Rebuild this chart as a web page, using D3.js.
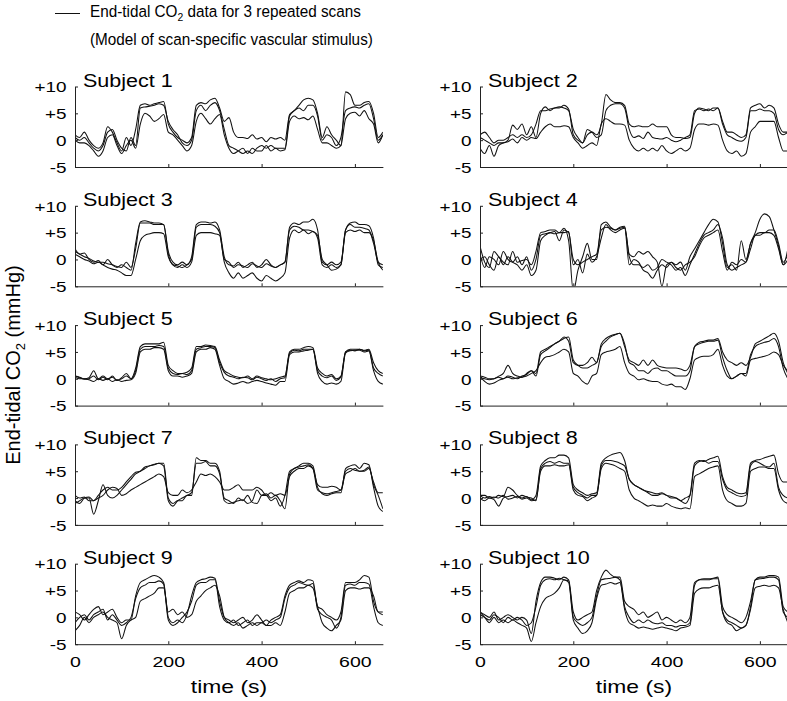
<!DOCTYPE html>
<html><head><meta charset="utf-8">
<script src="https://cdn.jsdelivr.net/npm/d3@7"></script>
<style>
body{margin:0;background:#fff}
svg{display:block}
text{font-family:"Liberation Sans",Arial,Helvetica,sans-serif;fill:#000}
</style>
</head><body>
<svg id="chart" width="787" height="701"></svg>
<script>
// ---------- data ----------
const times = [0,10,20,30,40,50,60,70,80,90,100,110,120,130,140,150,160,170,180,190,200,210,220,230,240,250,260,270,280,290,300,310,320,330,340,350,360,370,380,390,400,410,420,430,440,450,460,470,480,490,500,510,520,530,540,550,560,570,580,590,600,610,620,630,640,650,660];
const xTickValues = [0,200,400,600];
const xTickLabels = ["0","200","400","600"];
const yTickValues = [-5,0,5,10];
const yTickLabels = ["-5","0","+5","+10"];
const subjectNames = ["Subject 1","Subject 2","Subject 3","Subject 4","Subject 5","Subject 6","Subject 7","Subject 8","Subject 9","Subject 10"];

const s1a = [1,0.5,1.5,0,-1,-1.5,-0.5,2.5,1.5,-0.5, -2,0.5,-1,2,6.5,6.8,6.5,6.8,7,7.2, 3,1.5,0.5,0,-0.5,0.5,6.5,7,6.8,7.5, 7.8,6,3.5,4.2,1.5,0.5,0.5,0.3,1,0.2, 0.5,-0.3,0.5,0.2,0.5,0,4.8,5.5,6.5,7.5, 7.8,7.5,5,0.5,2.5,1,0,-1,9,8.5, 6.5,6.5,7,7.2,5,0.5,1.5];
const s1b = [0.5,0,0.5,-0.5,-1.5,-2,-1,1.5,2,0, -1.5,-2,0.5,-1,6,6.2,6.3,6.5,6.8,6.5, 3.5,2,1,-0.5,-1,0,5.5,6.5,5.5,6.5, 7,5.5,2,-1,-1.5,-2,-2.5,-2,-2.5,-1.5, -1,-1.5,-1,-1.5,-1.5,-1.5,4.5,5.5,6,5.5, 6.5,6.5,4.5,0,1,0.5,-1,0.5,5.5,6, 6.2,6,6.5,6.8,4,0,1];
const s1c = [0,-0.5,-0.5,-1,-2,-3,-2,0.5,1,-1, -2.5,-1,0,-1.5,3,5,4.5,3.5,4,4.8, 1.5,1,0,-1,-2,-1,3.5,5,4,3, 4,4.8,1,-1.5,-2.5,-2,-1.5,-2.5,-1.5,-2, -2,-1,-2,-1.5,-2,-1.8,3.5,4.5,4,4.2, 3.8,4.5,2,-0.5,-0.5,-1,-1.5,-1,4,5, 5.2,4.5,5.5,4,3,-0.5,1];

const s2a = [1,1.5,0.5,-0.5,0,0,0.5,1,0.5,1, 0.5,1,3,5.5,5.5,5.8,6,6.2,6,5.5, 2,0.5,-0.5,1,1.5,1,3,8.5,7.5,7, 7,6.5,3,2.5,2.7,2.5,2.5,3,2.5,2.5, 2.5,1,0.5,0.5,0.3,0.5,5,6,5.8,5.5, 6,6,3.5,1.5,1.5,1,0.5,1,6,6.5, 6.8,6,6.5,6,3,1.5,1.5];
const s2b = [0.5,0,-0.5,-1,-0.5,-0.5,0,2.8,2,3, 1,2.5,0.5,5,6.2,5.5,6,6,6.5,5.8, 1,0,-0.5,2,1.5,0.5,1,5.5,6.5,6.8, 6.8,6,2,0.5,0.8,0.3,1.5,0.5,0.3,0.2, 0.5,0,-0.3,0,0.5,1,5.5,5.8,5.5,5.8, 5.5,6,3,1,0.5,0,-0.2,0.5,5.5,5.5, 5.8,5.5,5.5,5,2,1,1.5];
const s2c = [-1.5,-2.5,-1,-3,-1,-0.5,-0.3,0.2,-0.5,0.5, 0,0.5,0.3,1.5,2.5,3,2.5,2.5,2.7,2.5, 0.5,-0.5,-1.5,-1,-0.5,-1,3,4,3.5,3, 3,2.8,0,-1.5,-2,-1.5,-2,-1.5,-2,-1, -2,-2.5,-2,-1.5,-2,-1.5,2,3,3,2.8, 3,2.8,0,-2,-2.5,-2,-3,-2.5,1.5,2.5, 3.5,3.5,3.5,3.5,0.5,-2,-2];

const s3a = [2,1,1.2,0,-0.5,-0.2,-1,0,-1,-1.5, -1,-1.5,-2,3,7,7.2,7,6.8,6.8,6.5, 1.5,-0.5,-1,-0.5,-1,0.5,6.5,7,7,6.8, 7,5.5,0.5,-1,-1.2,-0.5,-1.5,-1,-0.5,-1.5, -1,0,-1,-1.5,-1,-0.5,6,6.8,6.5,7, 7,7.5,5.5,-0.5,-1,-0.5,-1,-0.5,5.5,6.8, 7,6.5,6.5,6.3,4,-1,-1.5];
const s3b = [1.5,1,0.5,0.2,-0.3,-0.5,-0.5,-0.8,-1,-1.3, -1.5,-0.5,-1.5,2,6.8,6.8,6.8,6.5,6.5,6.5, 1,-1,-1.2,-1.5,-1,0,6,6.5,6.5,6.5, 6.2,5,0,-0.5,-1.5,-1,-1.2,-1.5,-0.8,-1.2, -1.5,-0.8,-1.2,-1.5,-1,-0.5,5.5,6.2,6,5.5, 5.5,5.2,4.5,0,-1,-2,-1.8,-1,5.5,6.5, 6,6,5.8,5.5,3,-0.5,-1];
const s3c = [1,0.5,0,-0.3,-0.8,-0.5,-1,-1.5,-1.8,-2, -2.5,-3,-3,0,3.5,4.5,4.8,5,5,4.8, 0.5,-1,-1.5,-1,-1.5,-0.5,4.5,5,5,5, 4.8,4.5,-0.5,-2.5,-3.5,-2.5,-3.5,-3,-2.5,-3.5, -4,-3,-3.5,-4,-3.5,-2.5,4,5.5,5,5.5, 4.8,5.2,4,-1,-1.5,-1,-1.5,-1,5,5.5, 5.2,5.5,5,5,3.5,-0.5,-2];

const s4a = [2.5,-0.5,-1.5,1.5,0.5,-0.5,-1,1.5,-0.5,-0.2, 0,-1,1.5,5,5.2,5.5,5.5,5,5.8,3.5, -6,-2,0.5,3,0,0,6.5,7,6,5.5, 6,6.2,1,0.5,1.5,1,1.5,0.5,-0.5,-5, -1,-0.5,-1,-0.5,-2,0.5,2,3.5,5,6.5, 7.5,7,3,-1.5,-1,-2,3.5,0,3,5, 7.5,8.5,8,5.5,2.5,-1,2];
const s4b = [1,-1.5,0.5,0,-1,1.5,0,-0.5,0.5,-1, 0.5,-2,0,4.5,4.8,5,5.2,3.5,5.5,5, 0,-1,-0.5,0,0.5,1,5.5,6,5.8,5.5, 5.8,6,0.5,-1,-1,-1.5,-1,-2,-1.5,0, -0.5,-1,-2,-1.5,-3,-1,1,3,4.5,5, 5.5,6.5,4,-1,-2,-1.5,-1,-0.5,3,4.5, 5,5,5.5,5.5,3,-0.5,1];
const s4c = [0,0.5,-1,-2,0.5,-1,0.5,-0.5,-1,-2, -1,-3,-2,3.5,4.5,5,4.8,5,5,5.2, -1,0,-2.5,1,-0.5,0.5,4,6.5,5.5,5, 5.5,5.8,-1,0,-0.5,-2,-2.5,-3.5,-2,-1, -1.5,-0.5,-1.5,-2,-1,-0.5,0.5,2.5,4,4.5, 5,5.5,1.5,-2,-0.5,-1,0,-0.5,2,4.5, 4.5,5,5,4.5,2,-1,0];

const s5a = [0.5,0.3,0,0.2,1.5,0,0.5,0,0.3,-0.3, 0,0.5,0,2,6,6.5,6.5,6.5,6.5,6.8, 2.5,1.5,1,1,1.2,2,6,6,6.3,6.2, 6,3.5,1.5,1,0.5,0.3,0.2,0.5,0,0.5, 0.2,0,-0.2,0,0.3,0.5,5,5.5,5.5,5.8, 6,5.8,2,1,0.5,0.8,0,0.5,5,5.5, 5.5,5.5,5.3,5.5,3,1.5,1];
const s5b = [0.5,0.2,-0.1,0,0.5,-0.2,0.3,-0.2,0.5,-0.3, 0.2,1,0,1.5,5.5,6,6,6,6.2,6, 2,1,0.8,1,0.8,1.5,5.5,5.8,6,6, 5.8,3,1.2,0.5,0.3,0,0.3,0.2,-0.2,0.3, 0,-0.3,0,-0.5,0,0.2,4.8,5.3,5.2,5.5, 5.5,5.5,1.5,0.5,0.2,0.5,-0.3,0.3,5,5.3, 5.2,5.5,5.2,5.3,2,1,0.5];
const s5c = [0.3,0,0,-0.2,-0.5,0,-0.3,0,-0.5,-0.2, -0.5,-0.3,-0.2,1,5,5.5,5.5,5.8,5.8,5.5, 1.5,0.5,0.5,0.3,0.5,1,5,5.5,5.5,5.8, 5.5,2.5,0,-0.5,-1,-0.8,-0.5,-0.8,-0.5,-0.3, -0.5,-0.8,-1,-1.2,-0.5,-0.5,4.5,5,5,5.2, 5.3,5.5,1,-0.5,-1,-0.8,-1,-0.5,4.8,5.2, 5.3,5.3,5,5.2,1.5,-0.5,-1];

const s6a = [0.5,0.3,0,0,0.5,1,2.5,1,0.5,0.3, 1,1.5,1,5,5.5,6,6.5,7,7.8,7, 3,2.5,2.5,3,4,3,6.5,7.5,8,8.3, 8.5,6,3.5,3,2.5,3.5,2.5,3.5,2.5,2.2, 2,2,2,1.8,1.5,2.5,6,6.8,7,7.2, 7.2,7.5,5,3.5,3,2.5,3,2.5,4,6.5, 7,7.5,8,8.5,7,3,1];
const s6b = [0.3,0,-0.2,0,0.3,0,0.5,0.3,0,0.5, 0.8,1.5,0.5,4.5,5.2,5.8,6.5,7,7.5,7.8, 3.5,2.5,2,2,2.5,3,6,7,7.8,8.2, 8.5,6.5,3,2.5,1.5,1.5,1,1.8,2,1.5, 1.5,1,0.5,0.5,0.5,1.5,6,6.5,6.8,7, 7,7.2,4,1.5,0,0.5,1,1,4.5,6, 6.5,6.8,7,7.5,6,2,0];
const s6c = [0.5,-0.5,-1,-0.8,-0.3,0,0.3,0,0.2,0.3, 0.5,1,1.5,3,4,4.2,4.5,5,5.5,5, 1,0.5,-0.5,-1,0.5,1,4.5,5,5.2,5.5, 6,3,1,0.5,-0.2,0,-0.3,-0.5,-0.5,-1, -1.2,-1,-1.5,-1.5,-2,0,3.5,4,4.2,4.2, 4.5,5.5,2.5,0.5,0,0.5,1,0.5,3.5,3.8, 4,4.2,4.5,5,4.5,2.5,1.5];

const s7a = [-0.5,-1,0,0.2,-0.5,0.5,1.5,2,1.5,1.5, 2,3,4,4.8,5,5.5,6,6.2,6.5,6.5, 0,-1,-0.5,-0.5,0.5,0.5,7.5,7,7,6.5, 6.5,5,-0.5,-1,-0.8,-0.5,-0.3,-1,-0.5,1.5, 0.5,0.5,-0.5,0,-1.5,0.5,5,5.5,6,6.5, 6.5,6,2,0.8,0.5,0.8,1,1,5.5,6, 6.2,5.5,6.5,6.2,2,-1.5,-2.5];
const s7b = [-1,-0.5,0,0,-3,-0.5,2.5,0.5,0,0.5, 1.5,2.5,3.5,4.5,5,5.8,6,6.3,6.5,6, -0.5,-1.5,-0.5,0,0.5,1,6.5,6.5,6.8,6, 6,4.5,0,-0.5,-1,0,-0.5,0.5,-0.8,-1, 0.5,0.8,0,0.5,-0.5,-2,4.5,5.5,5.8,6, 6.2,5.5,1.5,1,0.8,1,1.2,1.5,5,5.5, 5.2,5,5.2,5.8,2.5,0.5,-2];
const s7c = [0.5,0,0.2,-0.5,-0.5,0,0.5,1.5,2,1.8, 0.5,0.8,1.5,2,2.5,3,3.5,4,4.5,4, 1,0.5,0.5,1.5,1,1.5,3,4.5,4.2,4.5, 4,3,1.5,1.5,2,2.5,1.5,1.5,1.5,2, 1.5,0.5,1,0.5,0.8,0.5,4,5,5.5,5.5, 6,5.5,2.5,2,2,2.2,2,1.5,4.5,5, 5.5,5,5,5.5,3,1,1];

const s8a = [0.5,0,0.3,0,0.5,0.3,2,1.5,0.5,0, 0.3,-0.3,0.5,6,7,7.5,7.5,8,8,7.5, 2.5,1.5,1,0.5,0.8,1,6.5,7.5,8,8.3, 8.5,7,3.5,2.5,2,1.5,1.2,1,0.8,1, 0.5,0.3,0,-0.5,-1,0.5,6.5,7,6.8,7.2, 7.5,7.8,4,2,1.5,1,0.8,1,6.5,7, 7.2,7.5,7.8,8,4.5,3,3];
const s8b = [0,-0.5,0,-0.3,-1.5,0,0.3,0.5,0,0.5, 0.2,0,-0.5,5.5,6.5,6.8,6.5,6.8,6.5,6.5, 2,1,0.5,0,0.5,0.5,6,7,7,6.8, 6.5,6,3.5,2.5,2,1.5,1,0.5,0.5,0.8, 0.5,0,0,-0.5,0,0.5,6,6.8,7,6.5, 6.8,6.8,3.5,1.5,1,0.5,0.3,0.5,6,6.8, 6.5,6,5.8,6.5,2,0.5,0];
const s8c = [0.5,0.5,0,0.2,0,0.5,-0.2,0,0.3,-0.2, 0,-0.5,-0.3,5,6,6,6.2,6,6,6.2, 1.5,0.5,0.3,-0.5,0,0.5,5.5,6.5,6.3,6, 5.5,5,1.5,0,-0.5,-1,-1.5,-1.3,-1.5,-1.5, -1,-1.5,-1.8,-2,-1.8,-2,4,4.5,5,5.5, 5.8,6,1.5,-0.5,-1,-1.5,-1.5,-1,5,5.5, 5.8,5.8,5.5,5.5,1.5,-0.5,-1];

const s9a = [1,0.5,-0.5,0.5,1.5,2,0.5,1,1.5,0, -1,-0.5,-0.5,4,6.5,7,7.5,7.8,7.5,6.5, 0,-1,-0.5,-1,0.5,4,6.5,7,7.2,7.5, 7.3,3,0,-0.5,-1,-0.5,0,-1,-0.5,0.5, -0.5,-1.5,-0.5,0,0.5,4,6,6.5,6.8,6.5, 7,6.8,2,1.5,0.5,0,-0.5,1,6.5,6.5, 6.5,7,7.8,7.5,3,1,0.5];
const s9b = [-1,0,0.5,-0.5,0.5,1,1.5,-0.5,0.5,-0.5, -1.5,-1,0,3.5,5.5,6,6.5,6.5,6.8,6.2, -0.5,-1.5,-1,0,1,3,6,6.5,6.5,7, 7,2,-0.5,-1,-0.5,-1.5,-1,-0.5,-1.5,-1, -1,-0.5,-1,-0.5,0,3.5,5.5,6,6.5,6.2, 6,6.3,1.5,0.5,0,-0.5,-2,0,6,6.2, 6,6.5,6.5,6.2,2,-1,-1.5];
const s9c = [-2.5,-1.5,0,-1,0,0.5,1,0,-0.5,-1, -4,-1.5,-0.5,0,3,3.5,4,4.5,5.5,5.5, 1,1.5,0.5,1,0,0.5,3,4,5,5.5, 6,4,0,-1,-1.5,-1,-2,-1.5,-1,-1.5, -1,-1.5,-1.5,-1,-1.5,1,4.5,5,5.5,5.5, 6,5.5,2,-1,-2,-2.5,-1.5,-0.5,5,5.5, 5.5,5.3,5.5,5.5,4,1,1];

const s10a = [1,0.5,0,1,-0.5,0,0.5,0,-0.5,0, -0.5,-3,3,6.5,7.5,7.5,7.3,7,7.5,7, 1,-0.5,0,0.5,1,5,7.5,8.8,8,7.5, 7.5,3,2,1.5,0.5,1,0,0.5,1,-0.5, 0,-0.5,-1,-0.5,-1,0,6.5,7,7.2,7.2, 7.3,7.5,2,0.5,0,-0.5,-1,0,3,7, 7.5,7.5,7.8,7.8,7.5,2,1];
const s10b = [0.5,0,-0.5,0.5,0,-1,0,-0.5,0,-0.5, -1.5,-1,2,6,7,7.2,7,7.3,7,6.8, 0,-1,-1.5,-1,0,4,7,7.2,7.3,7.5, 7,2,0,-1,-0.5,-1,-0.5,-1,-1.2,-1, -1.5,-1.5,-1.8,-1.5,-1.5,-1,6,7,7,7, 7.2,7.2,1,-0.5,-1,-1.5,-2,-1.5,2,7, 7.2,7.3,7.5,7.5,7,1,0];
const s10c = [1,0,-1,0,-1,-0.5,-1,-0.5,-1,-1.5, -2,-4.5,-1,2,3.5,4,4.5,5.5,7,6.5, -0.5,-2,-3,-2.5,-1,3.5,6,6.2,6.5,6.2, 6.5,1.5,-1,-1.5,-2,-1.8,-2,-2.2,-2,-1.8, -2,-2.2,-2.5,-2,-1.8,-1.5,4.5,5.3,5.5,5.5, 5.8,6,1,-1,-1.5,-2.5,-2,-1.5,1.5,5.5, 5.8,6,5.8,6,5.5,1.5,-1];

const subjectScans = [
  [s1a,s1b,s1c],[s2a,s2b,s2c],[s3a,s3b,s3c],[s4a,s4b,s4c],[s5a,s5b,s5c],
  [s6a,s6b,s6c],[s7a,s7b,s7c],[s8a,s8b,s8c],[s9a,s9b,s9c],[s10a,s10b,s10c]
];

// ---------- layout ----------
const colX = [75, 480];
const rowY0 = 86.5, rowStep = 119.3;
const plotH = 80.5;
const plotW = 660 * 0.4665;
const ink = "#111";
const axisInk = "#222";
const STRETCH = 1.26;   // panel texts are horizontally wide in the reference

const svg = d3.select("#chart");

const x = d3.scaleLinear().domain([0, 660]).range([0, plotW]);
const y = d3.scaleLinear().domain([-5, 10]).range([plotH, 0]);
const line = d3.line()
  .x((d, i) => x(times[i]))
  .y(d => y(d))
  .curve(d3.curveMonotoneX);

// clip path
const defs = svg.append("defs");
defs.append("clipPath").attr("id", "plotclip")
  .append("rect").attr("x", 0).attr("y", 0).attr("width", plotW).attr("height", plotH);

subjectNames.forEach((name, k) => {
  const col = k % 2, row = Math.floor(k / 2);
  const g = svg.append("g").attr("transform", `translate(${colX[col]},${rowY0 + row * rowStep})`);

  // data lines
  const lg = g.append("g").attr("clip-path", "url(#plotclip)");
  subjectScans[k].forEach(vals => {
    lg.append("path").datum(vals)
      .attr("d", line)
      .attr("fill", "none")
      .attr("stroke", ink)
      .attr("stroke-width", 1.05)
      .attr("stroke-linejoin", "round");
  });

  // y axis
  const ya = g.append("g").call(
    d3.axisLeft(y).tickValues(yTickValues).tickSize(-3).tickSizeOuter(0)
      .tickFormat((d, i) => yTickLabels[i])
  );
  ya.select(".domain").attr("stroke", axisInk);
  ya.selectAll(".tick line").attr("stroke", axisInk);
  ya.selectAll(".tick text")
    .attr("font-family", '"Liberation Sans", Arial, sans-serif')
    .attr("font-size", 15)
    .attr("fill", "#000")
    .attr("x", -8.5 / STRETCH)
    .attr("dy", "0.35em")
    .attr("transform", `scale(${STRETCH},1)`);

  // x axis
  const bottomRow = row === 4;
  const xa = g.append("g").attr("transform", `translate(0,${plotH})`).call(
    d3.axisBottom(x).tickValues(xTickValues).tickSize(-3).tickSizeOuter(0)
      .tickFormat((d, i) => bottomRow ? xTickLabels[i] : "")
  );
  xa.select(".domain").attr("stroke", axisInk);
  xa.selectAll(".tick line").attr("stroke", axisInk);
  xa.selectAll(".tick text")
    .attr("font-family", '"Liberation Sans", Arial, sans-serif')
    .attr("font-size", 15.5)
    .attr("fill", "#000")
    .attr("y", 23)
    .attr("dy", 0)
    .attr("transform", `scale(${STRETCH},1)`);

  // subject label
  g.append("text")
    .attr("transform", `translate(8,0) scale(1.23,1)`)
    .attr("font-size", 17.5)
    .text(name);

  if (bottomRow) {
    g.append("text")
      .attr("transform", `translate(${plotW / 2},${693 - (rowY0 + row * rowStep)}) scale(1.27,1)`)
      .attr("text-anchor", "middle")
      .attr("font-size", 18)
      .text("time (s)");
  }
});

// y-axis title
const yt = svg.append("text")
  .attr("transform", "translate(20,365) rotate(-90)")
  .attr("text-anchor", "middle")
  .attr("font-size", 20);
yt.append("tspan").text("End-tidal CO");
yt.append("tspan").attr("font-size", 13).attr("dy", 5).text("2");
yt.append("tspan").attr("dy", -5).text(" (mmHg)");

// legend / title
svg.append("line").attr("x1", 55).attr("x2", 80).attr("y1", 13.5).attr("y2", 13.5)
  .attr("stroke", ink).attr("stroke-width", 1);
const t1 = svg.append("text").attr("transform", "translate(90,17) scale(0.9,1)").attr("font-size", 17);
t1.append("tspan").text("End-tidal CO");
t1.append("tspan").attr("font-size", 11.5).attr("dy", 4).text("2");
t1.append("tspan").attr("dy", -4).text(" data for 3 repeated scans");
svg.append("text").attr("transform", "translate(90,45) scale(0.9,1)").attr("font-size", 17)
  .text("(Model of scan-specific vascular stimulus)");
</script>
</body></html>
